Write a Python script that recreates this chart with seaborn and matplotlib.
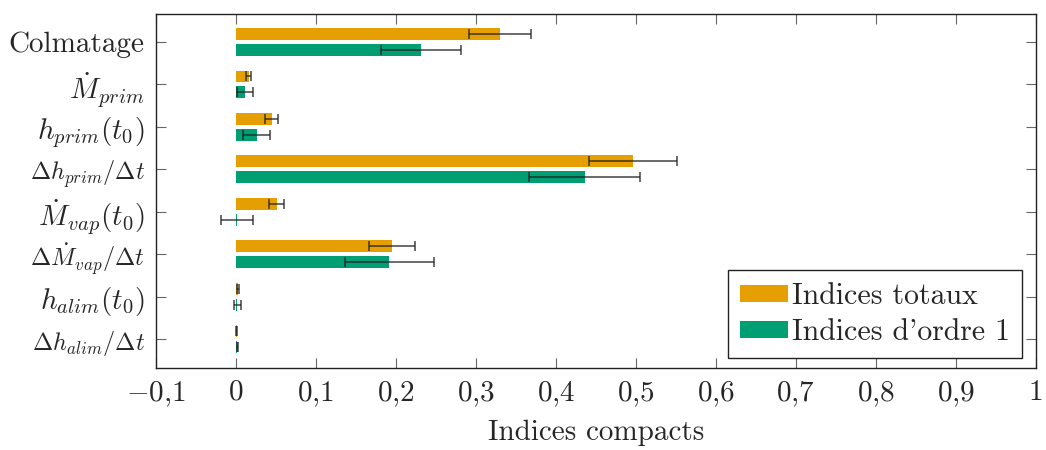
import matplotlib
matplotlib.use("Agg")
import matplotlib.pyplot as plt
import seaborn as sns
import pandas as pd

# parameters (top to bottom) and Sobol-like indices
params = [
    "Colmatage",
    r"$\dot{M}_{prim}$",
    r"$h_{prim}(t_0)$",
    r"$\Delta h_{prim}/\Delta t$",
    r"$\dot{M}_{vap}(t_0)$",
    r"$\Delta \dot{M}_{vap}/\Delta t$",
    r"$h_{alim}(t_0)$",
    r"$\Delta h_{alim}/\Delta t$",
]
total = [0.330, 0.016, 0.045, 0.497, 0.051, 0.195, 0.003, 0.001]
total_err = [0.039, 0.003, 0.008, 0.055, 0.009, 0.029, 0.001, 0.0005]
first = [0.231, 0.012, 0.026, 0.436, 0.001, 0.192, 0.002, 0.002]
first_err = [0.050, 0.010, 0.017, 0.069, 0.020, 0.056, 0.0045, 0.001]
series = ["Indices totaux", "Indices d'ordre 1"]
colors = ["#E69F00", "#009E73"]

xticks = [-0.1, 0, 0.1, 0.2, 0.3, 0.4, 0.5, 0.6, 0.7, 0.8, 0.9, 1]
xtick_labels = [r"$-0{,}1$", r"$0$", r"$0{,}1$", r"$0{,}2$", r"$0{,}3$", r"$0{,}4$",
                r"$0{,}5$", r"$0{,}6$", r"$0{,}7$", r"$0{,}8$", r"$0{,}9$", r"$1$"]

df = pd.DataFrame({
    "param": params * 2,
    "indice": total + first,
    "type": [series[0]] * len(params) + [series[1]] * len(params),
})

sns.set_style("ticks")
plt.rcParams.update({
    "font.family": "serif",
    "font.serif": ["cmr10"],
    "mathtext.fontset": "cm",
    "axes.unicode_minus": False,
    "axes.formatter.use_mathtext": True,
})

fig, ax = plt.subplots(figsize=(10.46, 4.5), dpi=100)
sns.barplot(data=df, y="param", x="indice", hue="type", orient="h",
            palette=colors, width=0.75, gap=0.25, errorbar=None,
            saturation=1, linewidth=0, ax=ax)

# error bars placed on the bars drawn by seaborn
for cont, err in zip(ax.containers, [total_err, first_err]):
    ys = [p.get_y() + p.get_height() / 2 for p in cont]
    xs = [p.get_x() + p.get_width() for p in cont]
    ax.errorbar(xs, ys, xerr=err, fmt="none", ecolor="#222222",
                elinewidth=1.1, capsize=3.8, capthick=1.1, alpha=0.85)

ax.set_xlim(-0.1, 1.0)
ax.set_ylim(7.68, -0.66)
ax.set_xticks(xticks)
ax.set_xticklabels(xtick_labels)
ax.tick_params(axis="both", direction="in", top=True, right=True,
               length=7, width=0.8, color="#666666", labelsize=21, pad=8)
for lab in ax.get_yticklabels():
    if "Delta" in lab.get_text():
        lab.set_fontsize(17.5)
for sp in ax.spines.values():
    sp.set_visible(True)
    sp.set_color("#222222")
    sp.set_linewidth(1.0)

ax.set_ylabel("")
ax.set_xlabel("Indices compacts", fontsize=21, labelpad=8)

leg = ax.legend(loc="lower right", bbox_to_anchor=(0.985, 0.028), borderaxespad=0,
                fontsize=21.5, frameon=True, fancybox=False, framealpha=1,
                edgecolor="#222222", handlelength=1.6, handleheight=0.5,
                handletextpad=0.15, labelspacing=0.3, borderpad=0.4, title=None)
leg.get_frame().set_linewidth(1.0)

plt.subplots_adjust(left=0.149, right=0.990, top=0.969, bottom=0.182)
plt.savefig("out.png", dpi=100)
